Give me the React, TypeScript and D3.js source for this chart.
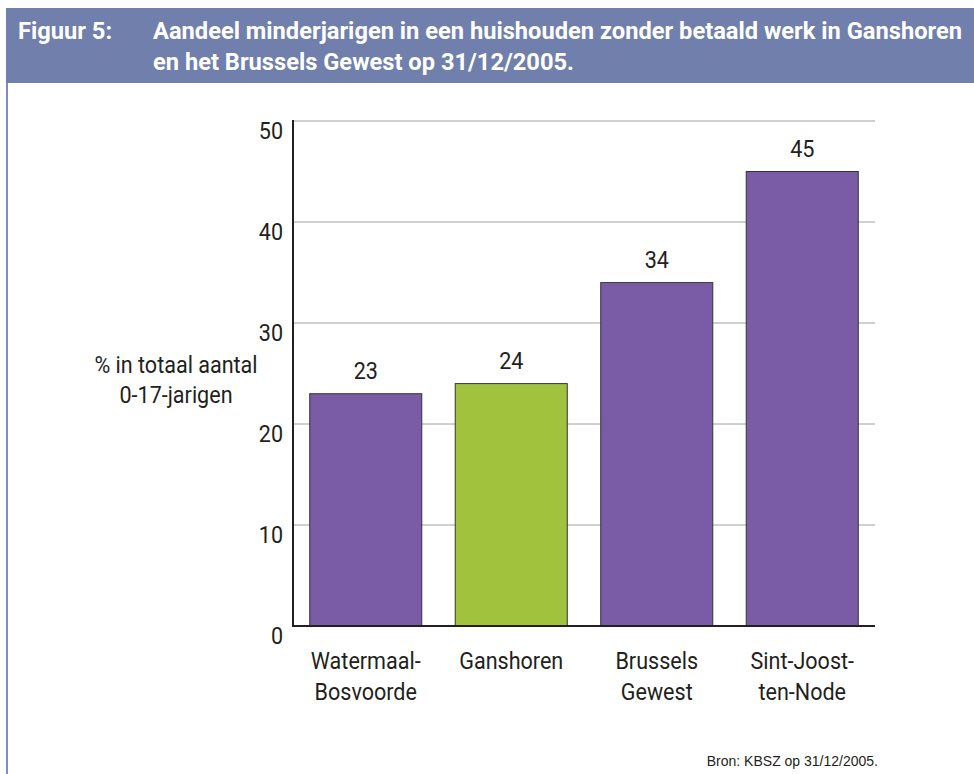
import React, { useLayoutEffect, useRef, useState } from 'react';
import * as d3 from 'd3';

const categories = [['Watermaal-', 'Bosvoorde'], ['Ganshoren'], ['Brussels', 'Gewest'], ['Sint-Joost-', 'ten-Node']];
const values = [23, 24, 34, 45];
const barColors = ['#7a5ca6', '#a0c23c', '#7a5ca6', '#7a5ca6'];
const yTicks = [0, 10, 20, 30, 40, 50];
const titleLines = ['Aandeel minderjarigen in een huishouden zonder betaald werk in Ganshoren', 'en het Brussels Gewest op 31/12/2005.'];
const yTitle = ['% in totaal aantal', '0-17-jarigen'];

const FONT = 'Roboto, "Liberation Sans", sans-serif';
const SQUEEZE = 0.88; // roboto is wider than the condensed helvetica of the original

// text squeezed horizontally around its anchor point
function CText({ x, y, anchor = 'start', size = 24.5, sx = SQUEEZE, children, ...rest }: any) {
  return (
    <text transform={`translate(${x},${y}) scale(${sx},1)`} textAnchor={anchor}
      fontFamily={FONT} fontSize={size} fill="#231f20" {...rest}>{children}</text>
  );
}

export default function App() {
  const width = 974, height = 774;
  const left = 293, right = 875, top = 121, bottom = 626;

  const titleRef = useRef<SVGTextElement>(null);
  const [titleScale, setTitleScale] = useState(0.84);
  useLayoutEffect(() => {
    if (!titleRef.current) return;
    const w = titleRef.current.getComputedTextLength();
    if (w > 0) setTitleScale(809 / w);
  }, []);

  // scales
  const x = d3.scaleBand<number>()
    .domain(values.map((v, i) => i))
    .range([left, right])
    .paddingInner(0.23)
    .paddingOuter(0.115);
  const y = d3.scaleLinear().domain([0, 50]).range([bottom, top]);
  const cx = (i: number) => x(i)! + x.bandwidth() / 2;

  return (
    <svg width={width} height={height} style={{ position: 'absolute', left: 0, top: 0 }}>
      <rect x={0} y={0} width={width} height={height} fill="#fff" />

      {/* header */}
      <rect x={6} y={8} width={968} height={75} fill="#707fab" />
      <line x1={7} x2={7} y1={83} y2={height} stroke="#7d8dcc" strokeWidth={2} />
      <g fill="#fff" fontWeight="bold">
        <CText x={18} y={39} size={24} sx={titleScale} fill="#fff">Figuur 5:</CText>
        {titleLines.map((t, i) => (
          <text key={i} ref={i === 0 ? titleRef : undefined}
            transform={`translate(153,${39 + i * 30.5}) scale(${titleScale},1)`}
            fontFamily={FONT} fontSize={24} fill="#fff">{t}</text>
        ))}
      </g>

      {/* gridlines */}
      {yTicks.filter(t => t > 0).map(t => (
        <line key={t} x1={left} x2={right} y1={y(t)} y2={y(t)} stroke="#a0a0a0" strokeWidth={1} />
      ))}

      {/* bars + value labels + category labels */}
      {values.map((v, i) => (
        <g key={i}>
          <rect x={x(i)} y={y(v)} width={x.bandwidth()} height={y(0) - y(v)}
            fill={barColors[i]} stroke="#333" strokeWidth={1} />
          <CText x={cx(i)} y={y(v) - 14.5} anchor="middle">{v}</CText>
          {categories[i].map((line, j) => (
            <CText key={j} x={cx(i)} y={669 + j * 30.5} anchor="middle">{line}</CText>
          ))}
        </g>
      ))}

      {/* axes */}
      <line x1={left} x2={left} y1={top - 1} y2={bottom + 1} stroke="#231f20" strokeWidth={2} />
      <line x1={left - 1} x2={right} y1={bottom} y2={bottom} stroke="#231f20" strokeWidth={2} />
      {yTicks.map(t => (
        <CText key={t} x={283} y={y(t) + 18} anchor="end">{t}</CText>
      ))}

      {/* y title */}
      {yTitle.map((t, i) => (
        <CText key={i} x={176} y={372.5 + i * 30} anchor="middle">{t}</CText>
      ))}

      <text x={878} y={766} textAnchor="end" fontFamily='"Liberation Sans", Arial, sans-serif'
        fontSize={14} fill="#231f20">Bron: KBSZ op 31/12/2005.</text>
    </svg>
  );
}
